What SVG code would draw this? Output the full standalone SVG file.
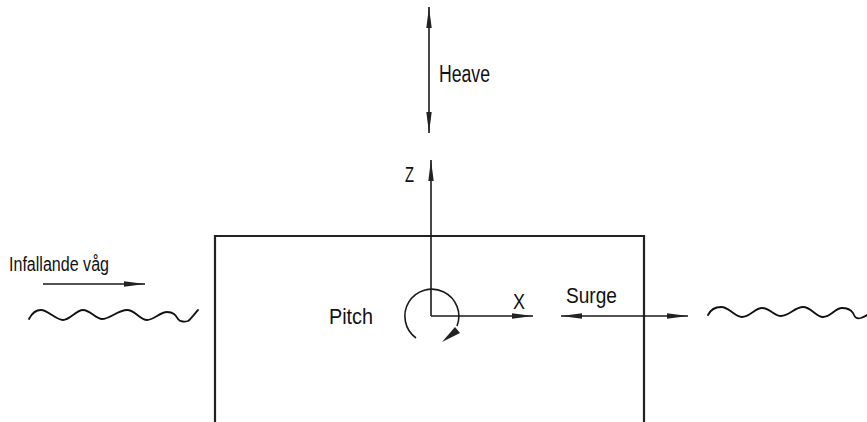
<svg xmlns="http://www.w3.org/2000/svg" width="867" height="422" viewBox="0 0 867 422">
<defs>
<style>
.ln{stroke:#1a1a1a;stroke-width:1.6;fill:none}
.box{stroke:#222;stroke-width:2.2;fill:none}
.wave{stroke:#111;stroke-width:1.8;fill:none;stroke-linecap:round;stroke-linejoin:round}
.t{font-family:"Liberation Sans","DejaVu Sans",sans-serif;fill:#111}
</style>
<marker id="ah" viewBox="0 0 21 7" refX="21" refY="3.5" markerWidth="21" markerHeight="7" markerUnits="userSpaceOnUse" orient="auto-start-reverse">
<path d="M0,0.8 L21,3.5 L0,6.2 Z" fill="#222"/>
</marker>
</defs>
<rect width="867" height="422" fill="#fff"/>
<g id="body">
<path class="box" d="M215,422 V236 H644 V422"/>
</g>
<g id="wave-left">
<path class="wave" d="M29,319 C32,313 36,310 41,310 C48,310 56,320 63,320 C70,320 76,310 83,310 C90,310 96,319 102,319 C110,319 118,310 127,310 C135,310 140,320 147,320 C154,320 160,312 167,312 C174,312 176,316 178,319 C180,322 185,322 188,321 C192,318 195,313 198,310"/>
</g>
<g id="wave-right">
<path class="wave" d="M708,315 C711,309 716,307 721,307 C729,307 735,317 742,317 C750,317 755,308 762,308 C770,308 774,316 781,316 C789,316 795,307 803,307 C811,307 816,317 823,317 C831,317 835,308 842,308 C848,308 851,310 853,313 C855,318 857,319 861,318 C864,317 866,316 867,315"/>
</g>
<g id="label-infallande">
<text class="t" x="9" y="271" font-size="19.5" textLength="100" lengthAdjust="spacingAndGlyphs">Infallande våg</text>
</g>
<g id="label-heave">
<text class="t" x="439" y="82" font-size="23" textLength="51" lengthAdjust="spacingAndGlyphs">Heave</text>
</g>
<g id="label-z">
<text class="t" x="405" y="182" font-size="22.5" textLength="9" lengthAdjust="spacingAndGlyphs">Z</text>
</g>
<g id="label-x">
<text class="t" x="513" y="309" font-size="21.5" textLength="12" lengthAdjust="spacingAndGlyphs">X</text>
</g>
<g id="label-pitch">
<text class="t" x="329" y="324" font-size="22.5" textLength="44" lengthAdjust="spacingAndGlyphs">Pitch</text>
</g>
<g id="label-surge">
<text class="t" x="566" y="303" font-size="22" textLength="51" lengthAdjust="spacingAndGlyphs">Surge</text>
</g>
<g id="connectors">
<line class="ln" x1="43" y1="284" x2="145" y2="284" marker-end="url(#ah)"/>
<line class="ln" x1="429" y1="7" x2="429" y2="133" marker-start="url(#ah)" marker-end="url(#ah)"/>
<line class="ln" x1="431" y1="316" x2="431" y2="160" marker-end="url(#ah)"/>
<line class="ln" x1="431" y1="316" x2="533" y2="316" marker-end="url(#ah)"/>
<line class="ln" x1="561" y1="316" x2="688" y2="316" marker-start="url(#ah)" marker-end="url(#ah)"/>
<path class="ln" d="M416,338 A27,27 0 1 1 457,326"/>
<path d="M442,342 L455,327 L460,333 Z" fill="#222"/>
</g>
</svg>
